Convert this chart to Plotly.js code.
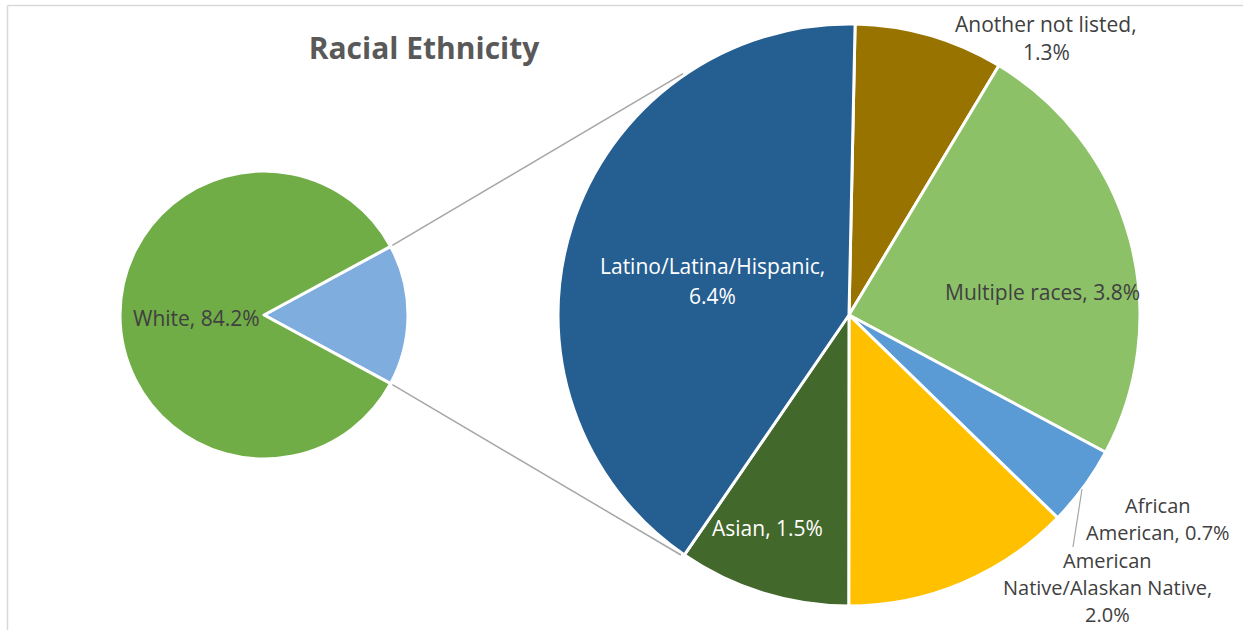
<!DOCTYPE html>
<html>
<head>
<meta charset="utf-8">
<script src="https://cdn.plot.ly/plotly-3.0.1.min.js"></script>
<style>html,body{margin:0;padding:0;background:#fff;}#chart{width:1243px;height:630px;}</style>
</head>
<body>
<div id="chart"></div>
<script>
// ---- Data ----
const mainLabels = ['Other races', 'White'];
const mainValues = [15.8, 84.2];
const mainColors = ['#7EADDE', '#70AD47'];

const detailLabels = ['Another not listed', 'Multiple races', 'African American', 'American Native/Alaskan Native', 'Asian', 'Latino/Latina/Hispanic'];
const detailValues = [1.3, 3.8, 0.7, 2.0, 1.5, 6.4];
const detailColors = ['#997300', '#8CC168', '#5B9BD5', '#FFC000', '#43682B', '#255E91'];

const titleText = 'Racial Ethnicity';

// ---- Layout geometry (pixels) ----
const W = 1243, H = 630;
const FONT = '"Open Sans", "Noto Sans", sans-serif';
const left = {cx: 264, cy: 315, r: 144};
const right = {cx: 849, cy: 315, r: 291};

function px2x(px) { return px / W; }
function py2y(py) { return 1 - py / H; }

const mainTotal = mainValues.reduce((a, b) => a + b, 0);
const otherSpan = mainValues[0] / mainTotal * 360;
const mainRotation = 90 - otherSpan / 2;

const traces = [
  {
    type: 'pie', labels: mainLabels, values: mainValues, sort: false,
    direction: 'clockwise', rotation: mainRotation,
    marker: {colors: mainColors, line: {color: '#ffffff', width: 3}},
    textinfo: 'none', hoverinfo: 'label+value', showlegend: false,
    domain: {x: [px2x(left.cx - left.r), px2x(left.cx + left.r)], y: [py2y(left.cy + left.r), py2y(left.cy - left.r)]}
  },
  {
    type: 'pie', labels: detailLabels, values: detailValues, sort: false,
    direction: 'clockwise', rotation: 1.2,
    marker: {colors: detailColors, line: {color: '#ffffff', width: 3}},
    textinfo: 'none', hoverinfo: 'label+value', showlegend: false,
    domain: {x: [px2x(right.cx - right.r), px2x(right.cx + right.r)], y: [py2y(right.cy + right.r), py2y(right.cy - right.r)]}
  }
];

function polar(c, r, deg) {
  const a = deg * Math.PI / 180;
  return [c.cx + r * Math.sin(a), c.cy - r * Math.cos(a)];
}

const shapes = [];
// chart frame (top and left edges)
shapes.push({type: 'line', xref: 'paper', yref: 'paper', x0: px2x(7.5), x1: 1, y0: py2y(5.5), y1: py2y(5.5), line: {color: '#D9D9D9', width: 1.5}});
shapes.push({type: 'line', xref: 'paper', yref: 'paper', x0: px2x(7.5), x1: px2x(7.5), y0: py2y(5.5), y1: 0, line: {color: '#D9D9D9', width: 1.5}});

// connector lines from the "Other" slice edges to the detail pie
const a1 = mainRotation, a2 = mainRotation + otherSpan;
const p1 = polar(left, left.r + 2, a1), p2 = polar(left, left.r + 2, a2);
const q1 = polar(right, right.r + 2, 270 + 55.5), q2 = polar(right, right.r + 2, 270 - 55);
[[p1, q1], [p2, q2]].forEach(([p, q]) => {
  shapes.push({type: 'line', xref: 'paper', yref: 'paper', x0: px2x(p[0]), y0: py2y(p[1]), x1: px2x(q[0]), y1: py2y(q[1]), line: {color: '#A6A6A6', width: 1.5}});
});
// leader line for African American
shapes.push({type: 'line', xref: 'paper', yref: 'paper', x0: px2x(1082), y0: py2y(489), x1: px2x(1073), y1: py2y(547), line: {color: '#A6A6A6', width: 1.2}});

const annotations = [];
const DARK = '#404040', LIGHT = '#FFFFFF';
function addLabel(lines, cx, cy, color, gap, size) {
  gap = gap || 28;
  size = size || 21;
  const n = lines.length;
  lines.forEach((t, i) => {
    const y = cy + (i - (n - 1) / 2) * gap;
    annotations.push({text: t, xref: 'paper', yref: 'paper', x: px2x(cx), y: py2y(y), xanchor: 'center', yanchor: 'middle', showarrow: false, font: {family: FONT, size: size, color: color}});
  });
}
function pct(v) { return v.toFixed(1) + '%'; }

addLabel([mainLabels[1] + ', ' + pct(mainValues[1])], 196, 318, DARK);
addLabel([detailLabels[0] + ',', pct(detailValues[0])], 1046, 38, DARK);
addLabel([detailLabels[1] + ', ' + pct(detailValues[1])], 1042, 292, DARK);
addLabel(['African', 'American, ' + pct(detailValues[2])], 1158, 519, DARK, 27, 20);
addLabel(['American', 'Native/Alaskan Native,', pct(detailValues[3])], 1107, 587, DARK, 27, 20);
addLabel([detailLabels[4] + ', ' + pct(detailValues[4])], 767, 528, LIGHT);
addLabel([detailLabels[5] + ',', pct(detailValues[5])], 712, 281, LIGHT, 30);

const layout = {
  width: W, height: H,
  margin: {l: 0, r: 0, t: 0, b: 0},
  paper_bgcolor: '#ffffff',
  title: {text: '<b>' + titleText + '</b>', x: px2x(424), xanchor: 'center', y: py2y(48), yanchor: 'middle', font: {family: FONT, size: 30, color: '#595959'}},
  shapes: shapes,
  annotations: annotations,
  showlegend: false
};

Plotly.newPlot('chart', traces, layout, {displayModeBar: false, staticPlot: true});
</script>
</body>
</html>
